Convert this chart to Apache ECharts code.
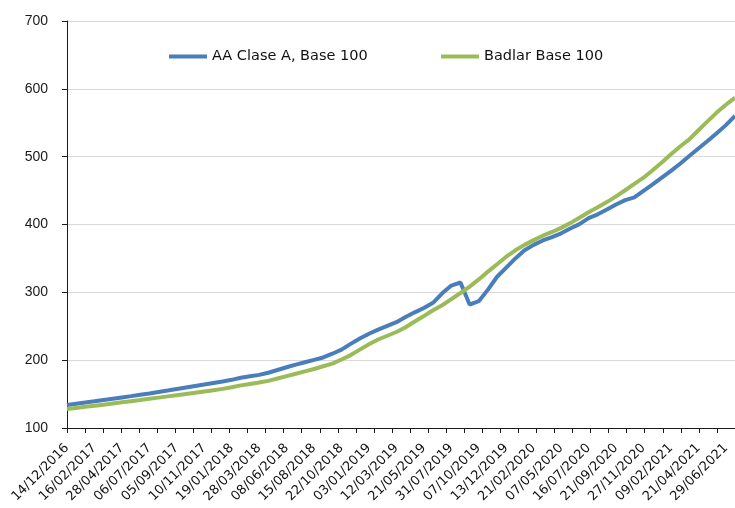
<!DOCTYPE html>
<html>
<head>
<meta charset="utf-8">
<script src="https://cdn.jsdelivr.net/npm/echarts@6/dist/echarts.min.js"></script>
<style>
html, body { margin: 0; padding: 0; background: #ffffff; }
#chart { width: 735px; height: 508px; }
</style>
</head>
<body>
<div id="chart"></div>
<script>
// Date labels shown on the x axis (one every third data point)
const tickLabels = [
  '14/12/2016', '16/02/2017', '28/04/2017', '06/07/2017', '05/09/2017', '10/11/2017',
  '19/01/2018', '28/03/2018', '08/06/2018', '15/08/2018', '22/10/2018', '03/01/2019',
  '12/03/2019', '21/05/2019', '31/07/2019', '07/10/2019', '13/12/2019', '21/02/2020',
  '07/05/2020', '16/07/2020', '21/09/2020', '27/11/2020', '09/02/2021', '21/04/2021',
  '29/06/2021'
];

const seriesNames = ['AA Clase A, Base 100', 'Badlar Base 100'];

// AA Clase A, base 100
const claseA = [
  134, 135.8, 137.6, 139.4, 141.3, 143.2, 145.1, 147, 149, 151,
  153.1, 155.2, 157.4, 159.6, 161.8, 164, 166.3, 168.6, 171, 174,
  176.2, 178.3, 181.5, 185.5, 189.5, 193.5, 197, 200.5, 204, 209.5,
  215.5, 224, 232, 239, 245, 250.5, 256, 263.5, 270.5, 277,
  284.5, 298.5, 310, 314.5, 282, 287, 304, 323, 336.5, 350,
  362, 370, 376.5, 381.5, 387, 394, 400.5, 409.5, 415, 422,
  429.5, 436, 440, 449.5, 459, 469, 479, 489.5, 501, 512,
  523, 534.5, 546.5, 560
];

// Badlar, base 100
const badlar = [
  128, 129.6, 131.2, 132.8, 134.4, 136.1, 137.8, 139.5, 141.2, 143,
  144.8, 146.6, 148.4, 150.2, 152, 153.9, 155.8, 157.7, 160, 162.8,
  165, 167, 169.5, 173, 176.5, 180, 183.5, 187, 191, 195,
  201, 207.5, 215.5, 223.5, 230.5, 236, 241.5, 248.5, 257, 265,
  273.5, 281, 290, 299, 308.5, 319, 330.5, 341.5, 352.5, 362,
  370, 377, 383.5, 389, 395, 402, 410, 418, 425.5, 433,
  441.5, 450.5, 460, 469, 480, 491.5, 503.5, 515, 525.5, 539,
  552, 565, 576.5, 587
];

// y axis range
const yMin = 100, yMax = 700, yStep = 100;
// number of tick-mark intervals along the x axis
const xTickMarkCount = 37;

// categories: each labelled date followed by two unlabelled points
const categories = [];
tickLabels.forEach((d, i) => {
  categories.push(d);
  if (i < tickLabels.length - 1) { categories.push('', ''); }
});
while (categories.length < claseA.length) categories.push('');

const chart = echarts.init(document.getElementById('chart'));
const legendText = { fontFamily: 'DejaVu Sans', fontSize: 14.5, color: '#111111' };
chart.setOption({
  animation: false,
  backgroundColor: '#ffffff',
  grid: { left: 67, right: 0, top: 21, bottom: 80, containLabel: false },
  legend: [
    { data: [seriesNames[0]], left: 164, top: 44, icon: 'rect', itemWidth: 38, itemHeight: 4, textStyle: legendText },
    { data: [seriesNames[1]], left: 436, top: 44, icon: 'rect', itemWidth: 38, itemHeight: 4, textStyle: legendText }
  ],
  xAxis: [
    {
      type: 'category', data: categories, boundaryGap: false,
      axisLine: { show: false }, axisTick: { show: false }, splitLine: { show: false },
      axisLabel: { interval: 2, rotate: 45, margin: 18, fontFamily: 'DejaVu Sans', fontSize: 13, color: '#111111' }
    },
    {
      type: 'value', position: 'bottom', min: 0, max: xTickMarkCount, interval: 1,
      axisLine: { show: true, onZero: false, lineStyle: { color: '#1a1a1a', width: 1 } },
      axisTick: { show: true, length: 5, lineStyle: { color: '#1a1a1a', width: 1 } },
      axisLabel: { show: false }, splitLine: { show: false }
    }
  ],
  yAxis: {
    type: 'value', min: yMin, max: yMax, interval: yStep,
    axisLine: { show: true, lineStyle: { color: '#1a1a1a', width: 1 } },
    axisTick: { show: true, length: 5, lineStyle: { color: '#1a1a1a' } },
    axisLabel: { margin: 19, fontFamily: 'Liberation Sans', fontSize: 14, color: '#1a1a1a' },
    splitLine: { show: true, lineStyle: { color: '#d9d9d9', width: 1 } }
  },
  series: [
    {
      name: seriesNames[0], type: 'line', xAxisIndex: 0, data: claseA,
      showSymbol: false, symbol: 'none',
      lineStyle: { width: 4, color: '#4a7ebb' }, itemStyle: { color: '#4a7ebb' }
    },
    {
      name: seriesNames[1], type: 'line', xAxisIndex: 0, data: badlar,
      showSymbol: false, symbol: 'none',
      lineStyle: { width: 4, color: '#9bbb59' }, itemStyle: { color: '#9bbb59' }
    }
  ]
});
</script>
</body>
</html>
